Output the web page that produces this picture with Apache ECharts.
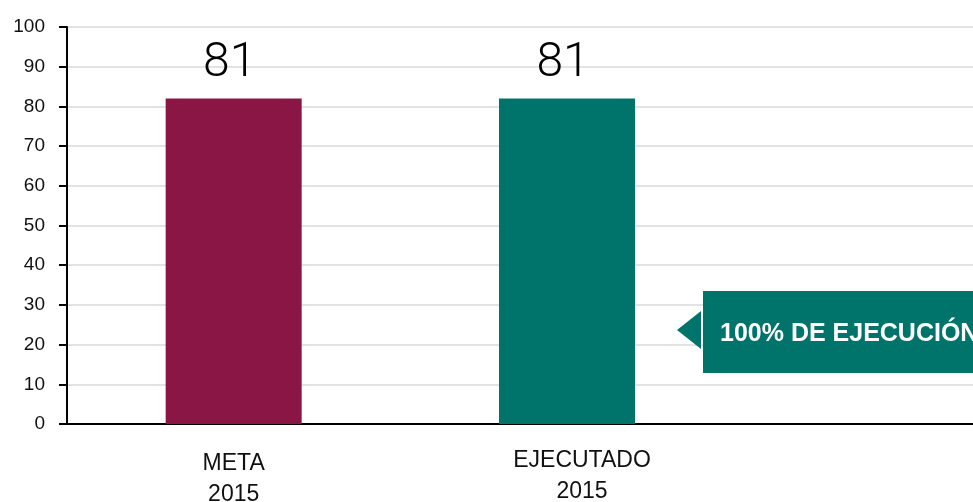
<!DOCTYPE html>
<html>
<head>
<meta charset="utf-8">
<script src="https://cdn.jsdelivr.net/npm/echarts@6/dist/echarts.min.js"></script>
<style>html,body{margin:0;padding:0;background:#fff}#c{width:973px;height:502px}</style>
</head>
<body>
<div id="c"></div>
<script>
const categories = ['META\n2015', 'EJECUTADO\n2015', ''];
const values = [82, 82, null];
const valueLabels = ['81', '81', ''];
const barColors = ['#891645', '#00746A'];
const yTicks = { min: 0, max: 100, interval: 10 };
const calloutText = '100% DE EJECUCIÓN';

const chart = echarts.init(document.getElementById('c'));
chart.setOption({
  animation: false,
  grid: { left: 67, right: -94, top: 27, bottom: 78, containLabel: false, outerBoundsMode: 'none' },
  xAxis: {
    type: 'category',
    data: [
      { value: categories[0], textStyle: { padding: [3, 0, 0, 0] } },
      { value: categories[1], textStyle: { padding: [0, 0, 0, 30] } },
      { value: categories[2] }
    ],
    axisLine: { lineStyle: { color: '#000', width: 2 } },
    axisTick: { show: false },
    axisLabel: { color: '#111', fontFamily: 'Liberation Sans, Arial, sans-serif', fontSize: 23, lineHeight: 31, margin: 21, interval: 0 }
  },
  yAxis: {
    type: 'value',
    min: yTicks.min, max: yTicks.max, interval: yTicks.interval,
    axisLine: { show: true, lineStyle: { color: '#000', width: 2 } },
    axisTick: { show: true, length: 8, lineStyle: { color: '#000', width: 2 } },
    axisLabel: { color: '#111', fontFamily: 'Liberation Sans, Arial, sans-serif', fontSize: 19, margin: 22 },
    splitLine: { lineStyle: { color: '#e3e3e3', width: 2 } }
  },
  series: [{
    type: 'bar',
    barWidth: 136,
    data: values.map((v, i) => ({ value: v, itemStyle: { color: barColors[i] } })),
    label: {
      show: true,
      position: 'top',
      distance: 10,
      offset: [-4, 0],
      fontFamily: 'Roboto, sans-serif',
      fontWeight: 300,
      fontSize: 48,
      color: '#000',
      formatter: p => valueLabels[p.dataIndex]
    }
  }],
  graphic: [
    { type: 'rect', z: 100, shape: { x: 703, y: 291, width: 270, height: 82 }, style: { fill: '#00746A' } },
    { type: 'polygon', z: 100, shape: { points: [[677, 330], [701, 311], [701, 349]] }, style: { fill: '#00746A' } },
    { type: 'text', z: 101, x: 720, y: 334, style: { text: calloutText, fill: '#fff', font: 'bold 25px "Liberation Sans", Arial, sans-serif', textVerticalAlign: 'middle' } }
  ]
});
</script>
</body>
</html>
